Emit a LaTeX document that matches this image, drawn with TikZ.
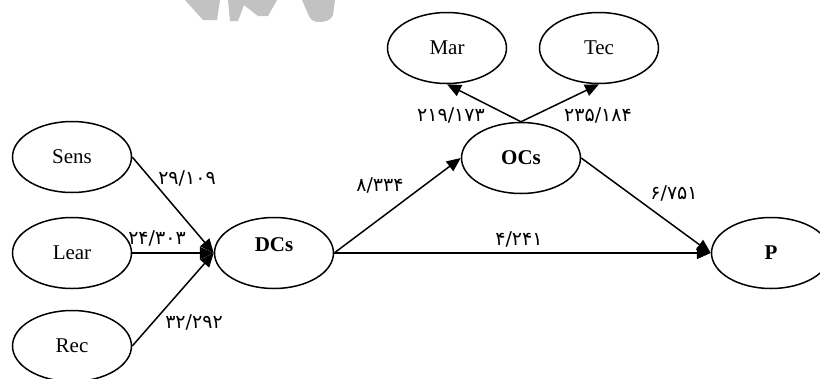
\documentclass[tikz,border=0pt]{standalone}
\usepackage{fontspec}
\setmainfont{Liberation Serif}
\newfontfamily\persianfont{DejaVu Sans}
\usetikzlibrary{arrows.meta,shapes.geometric}
\begin{document}
\begin{tikzpicture}[x=1pt,y=-1pt,
  var/.style={draw,ellipse,line width=1.5pt,minimum width=119pt,minimum height=71pt,inner sep=0pt,font=\fontsize{21}{24}\selectfont},
  lat/.style={var,font=\bfseries\fontsize{21}{24}\selectfont},
  link/.style={line width=1.5pt,-{Triangle[length=14pt,width=12pt]}},
  num/.style={font=\persianfont\fontsize{19}{22}\selectfont,inner sep=0pt},
  wm/.style={fill=black!24,draw=none}]
\clip (0,0) rectangle (820,378);
\fill[white] (0,0) rectangle (820,378);
% watermark fragments
\fill[wm] (185,0) -- (220,0) -- (217,20) -- (203,20) -- cycle;
\fill[wm] (228,0) -- (277,0) -- (268,16) -- (258,16) -- (244,5) -- (238,21) -- (230,21) -- cycle;
\fill[wm] (302,0) -- (335,0) -- (333,15) to[out=250,in=0] (318,22) to[out=180,in=290] (308,14) -- cycle;
% nodes
\node[var] (sens) at (72,157) {Sens};
\node[var] (lear) at (72,253) {Lear};
\node[var] (rec) at (72,346) {Rec};
\node[lat,text height=14pt,text depth=18pt] (dcs) at (274,253) {DCs};
\node[lat] (ocs) at (521,158) {OCs};
\node[var] (mar) at (447,48) {Mar};
\node[var] (tec) at (599,48) {Tec};
\node[lat] (p) at (771,253) {P};
% connectors
\draw[link] (sens.east) -- (dcs.west);
\draw[link] (lear.east) -- (dcs.west);
\draw[link] (rec.east) -- (dcs.west);
\draw[link] (dcs.east) -- (ocs.west);
\draw[link] (dcs.east) -- (p.west);
\draw[link] (ocs.east) -- (p.west);
\draw[link] (ocs.north) -- (mar.south);
\draw[link] (ocs.north) -- (tec.south);
% labels
\node[num] (l1) at (187,178) {۲۹/۱۰۹};
\node[num] (l2) at (157,238) {۲۴/۳۰۳};
\node[num] (l3) at (194,322) {۳۲/۲۹۲};
\node[num] (l4) at (380,185) {۸/۳۳۴};
\node[num] (l5) at (519,239) {۴/۲۴۱};
\node[num] (l6) at (674,193) {۶/۷۵۱};
\node[num] (l7) at (451,115) {۲۱۹/۱۷۳};
\node[num] (l8) at (598,115) {۲۳۵/۱۸۴};
\end{tikzpicture}
\end{document}
